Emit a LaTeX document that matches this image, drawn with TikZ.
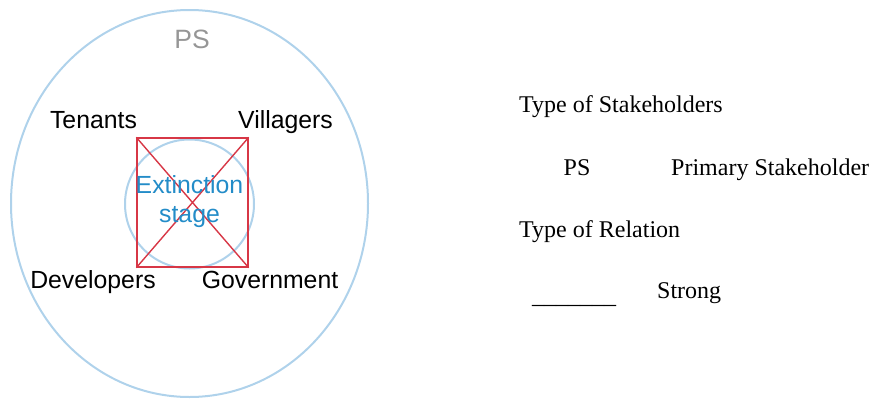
\documentclass[tikz,border=0pt]{standalone}
\usepackage{fontspec}
\setmainfont{Liberation Serif}
\newfontfamily\diagsans{Liberation Sans}
\usetikzlibrary{shapes.geometric}
\definecolor{ringblue}{RGB}{175,210,235}
\definecolor{crossred}{RGB}{215,55,70}
\definecolor{textblue}{RGB}{35,140,200}
\definecolor{psgray}{RGB}{150,150,150}
\tikzset{
  ring/.style={draw=ringblue, line width=2pt, inner sep=0pt},
  lbl/.style={font=\diagsans\fontsize{24.8}{29}\selectfont, text=black, inner sep=0pt, anchor=base},
  legend/.style={font=\fontsize{24}{28}\selectfont, text=black, inner sep=0pt, anchor=base west},
  crossline/.style={draw=crossred, line width=1.4pt}
}
\begin{document}
\begin{tikzpicture}[x=1pt,y=-1pt]
\useasboundingbox (0,0) rectangle (870,399);
% outer ellipse
\node[ring, ellipse, minimum width=357pt, minimum height=387pt] (outer) at (189.5,203.5) {};
% inner circle
\node[ring, circle, minimum size=129pt] (inner) at (189.5,204) {};
% crossed box
\node[crossline, rectangle, minimum width=111pt, minimum height=129pt, inner sep=0pt] (box) at (192.5,202.5) {};
\draw[crossline] (box.north west) -- (box.south east);
\draw[crossline] (box.north east) -- (box.south west);
% labels
\node[lbl, text=psgray, font=\diagsans\fontsize{26.5}{30}\selectfont] (ps) at (192,48) {PS};
\node[lbl] (tenants) at (93.5,128) {Tenants};
\node[lbl] (villagers) at (285.5,128) {Villagers};
\node[lbl] (developers) at (93,288) {Developers};
\node[lbl] (government) at (270,288) {Government};
\node[lbl, text=textblue, align=center, font=\diagsans\fontsize{24.8}{29}\selectfont] (ext) at (189.5,222) {Extinction\\stage};
% legend
\node[legend] (typestake) at (519,112) {Type of Stakeholders};
\node[legend, anchor=base] (psleg) at (577,175) {PS};
\node[legend] (primary) at (671,175) {Primary Stakeholder};
\node[legend] (typerel) at (519,237) {Type of Relation};
\node[legend] (line) at (532,303) {\_\_\_\_\_\_\_};
\node[legend] (strong) at (657,298) {Strong};
\end{tikzpicture}
\end{document}
